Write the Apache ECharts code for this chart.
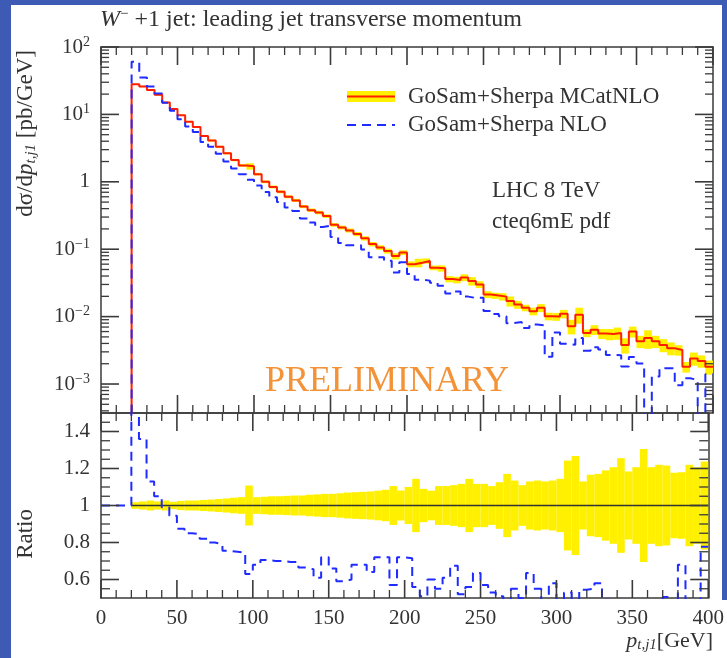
<!DOCTYPE html>
<html>
<head>
<meta charset="utf-8">
<title>W- +1 jet: leading jet transverse momentum</title>
<script src="https://cdn.jsdelivr.net/npm/echarts@6/dist/echarts.min.js"></script>
<style>
  html, body { margin: 0; padding: 0; background: #ffffff; }
  #wrap { position: relative; width: 727px; height: 658px; }
  #chart { width: 727px; height: 658px; }
  .strip { position: absolute; background: #3d5bb4; pointer-events: none; }
</style>
</head>
<body>
<div id="wrap">
  <div id="chart"></div>
  <div class="strip" style="left:0;top:0;width:11px;height:658px"></div>
  <div class="strip" style="left:0;top:0;width:727px;height:5px"></div>
  <div class="strip" style="left:722px;top:0;width:5px;height:600px"></div>
</div>
<script>
  // bin edges in GeV (5 GeV bins from 20 to 400)
  const binEdges = [20, 25, 30, 35, 40, 45, 50, 55, 60, 65, 70, 75, 80, 85, 90, 95, 100,
    105, 110, 115, 120, 125, 130, 135, 140, 145, 150, 155, 160, 165, 170, 175, 180, 185, 190, 195, 200,
    205, 210, 215, 220, 225, 230, 235, 240, 245, 250, 255, 260, 265, 270, 275, 280, 285, 290, 295, 300,
    305, 310, 315, 320, 325, 330, 335, 340, 345, 350, 355, 360, 365, 370, 375, 380, 385, 390, 395, 400];

  // GoSam+Sherpa MCatNLO, dsigma/dpt [pb/GeV]
  const mcatnlo = [28, 26, 23, 19.5, 15, 12, 9.7, 7.8, 6.5, 4.8,
    4.1, 3.3, 2.65, 2.1, 1.75, 1.7, 1.3, 1.0, 0.84, 0.71,
    0.60, 0.53, 0.43, 0.38, 0.35, 0.31, 0.23, 0.21, 0.19, 0.168,
    0.145, 0.119, 0.106, 0.094, 0.079, 0.089, 0.060, 0.063, 0.067, 0.053,
    0.052, 0.036, 0.035, 0.038, 0.0337, 0.030, 0.0213, 0.0205, 0.0198, 0.017,
    0.0151, 0.0135, 0.012, 0.0135, 0.0101, 0.0100, 0.0110, 0.0072, 0.0107, 0.0057,
    0.0064, 0.0056, 0.0055, 0.0057, 0.0038, 0.0060, 0.0043, 0.0048, 0.0043, 0.0038,
    0.0034, 0.0032, 0.0018, 0.0024, 0.0022, 0.0018];

  // GoSam+Sherpa NLO, dsigma/dpt [pb/GeV]
  const nlo = [60.2, 35.4, 26.0, 20.5, 14.9, 11.3, 8.5, 6.6, 5.5, 3.9,
    3.3, 2.6, 2.0, 1.58, 1.30, 1.07, 0.88, 0.705, 0.59, 0.50,
    0.417, 0.368, 0.286, 0.249, 0.214, 0.223, 0.152, 0.124, 0.114, 0.114,
    0.0986, 0.0762, 0.0763, 0.0677, 0.0450, 0.0641, 0.0429, 0.0353, 0.0342, 0.0318,
    0.0286, 0.0220, 0.0236, 0.0198, 0.0189, 0.0191, 0.0121, 0.0109, 0.0101, 0.0080,
    0.0083, 0.00675, 0.00762, 0.00743, 0.00253, 0.0058, 0.00396, 0.00382, 0.00482, 0.00311,
    0.00352, 0.00325, 0.0027, 0.00268, 0.00182, 0.00252, 0.00202, 0.00024, 0.00129, 0.00171,
    0.00172, 0.00096, 0.00122, 0.00115, 0.00026, 0.0014];

  // NLO / MCatNLO ratio
  const nloRatio = [2.15, 1.36, 1.13, 1.05, 0.99, 0.945, 0.875, 0.85, 0.845, 0.82,
    0.80, 0.79, 0.755, 0.75, 0.745, 0.63, 0.68, 0.705, 0.70, 0.70,
    0.695, 0.695, 0.665, 0.655, 0.61, 0.72, 0.66, 0.59, 0.60, 0.68,
    0.68, 0.64, 0.72, 0.72, 0.57, 0.72, 0.715, 0.56, 0.51, 0.60,
    0.55, 0.61, 0.675, 0.52, 0.56, 0.635, 0.57, 0.53, 0.51, 0.47,
    0.55, 0.50, 0.635, 0.55, 0.25, 0.58, 0.36, 0.53, 0.45, 0.545,
    0.55, 0.58, 0.49, 0.47, 0.48, 0.42, 0.47, 0.05, 0.30, 0.45,
    0.505, 0.30, 0.68, 0.48, 0.12, 0.777];

  // MCatNLO relative uncertainty (half width of the yellow band)
  const bandRel = [0.018, 0.022, 0.027, 0.022, 0.027, 0.02, 0.025, 0.027, 0.027, 0.03,
    0.032, 0.035, 0.038, 0.042, 0.045, 0.108, 0.045, 0.047, 0.05, 0.05,
    0.052, 0.054, 0.054, 0.058, 0.06, 0.063, 0.063, 0.066, 0.07, 0.072,
    0.074, 0.076, 0.08, 0.085, 0.105, 0.081, 0.10, 0.144, 0.09, 0.08,
    0.105, 0.105, 0.11, 0.117, 0.144, 0.117, 0.117, 0.105, 0.126, 0.171,
    0.135, 0.11, 0.13, 0.135, 0.13, 0.135, 0.144, 0.243, 0.267, 0.13,
    0.166, 0.171, 0.19, 0.207, 0.256, 0.184, 0.207, 0.306, 0.207, 0.22,
    0.216, 0.177, 0.18, 0.22, 0.207, 0.238];

  const xTicks = [0, 50, 100, 150, 200, 250, 300, 350, 400];
  const logTicks = [-3, -2, -1, 0, 1, 2];
  const ratioTicks = [0.6, 0.8, 1, 1.2, 1.4];
  const ratioMinor = [0.55, 0.65, 0.7, 0.75, 0.85, 0.9, 0.95, 1.05, 1.1, 1.15, 1.25, 1.3, 1.35, 1.45];

  const FONT = '"Liberation Serif", "DejaVu Serif", serif';
  const TEXT = '#333333';
  const FRAME = '#3a3a3a';
  const YELLOW = '#fff000';
  const RED = '#ff1e00';
  const BLUE = '#1f2bff';
  const LOG_MIN = -3.43, LOG_MAX = 2, BELOW = -9;
  const R_MIN = 0.5, R_MAX = 1.5;
  const MAJOR = 18, MINOR = 8;

  // minor ticks: every 10 GeV on x, 2..9 per decade on the log axis
  let xMinor = [];
  for (let v = 10; v < 400; v += 10) if (v % 50 !== 0) xMinor.push(v);
  let logMinor = [];
  for (let n = -4; n <= 1; n++) {
    for (let k = 2; k <= 9; k++) {
      let v = n + Math.log10(k);
      if (v > LOG_MIN && v < LOG_MAX) logMinor.push(v);
    }
  }

  let lg = (v) => Math.log10(v);

  // histogram as step line: [lowEdge, value] ... [lastEdge, lastValue]
  function stepData(vals, tf, first) {
    let out = first ? [first] : [];
    vals.forEach((v, i) => out.push([binEdges[i], tf(v)]));
    out.push([binEdges[binEdges.length - 1], tf(vals[vals.length - 1])]);
    return out;
  }

  let upperBand = mcatnlo.map((v, i) => [binEdges[i], binEdges[i + 1], lg(v * (1 - bandRel[i])), lg(v * (1 + bandRel[i]))]);
  let ratioBand = bandRel.map((r, i) => [binEdges[i], binEdges[i + 1], 1 - r, 1 + r]);

  function bandItem(params, api) {
    let a = api.coord([api.value(0), api.value(3)]);
    let b = api.coord([api.value(1), api.value(2)]);
    return {
      type: 'rect',
      shape: { x: a[0], y: a[1], width: b[0] - a[0], height: b[1] - a[1] },
      style: { fill: YELLOW }
    };
  }

  // one series of inward tick marks on one side of a panel; data = [x, y] points on that edge
  function tickSeries(xi, yi, side, len, pts) {
    let w = len > 10 ? 1.6 : 1.3;
    return {
      type: 'custom', xAxisIndex: xi, yAxisIndex: yi, z: 6, silent: true, clip: false,
      encode: { x: 0, y: 1 }, data: pts,
      renderItem: function (params, api) {
        let p = api.coord([api.value(0), api.value(1)]);
        let s;
        if (side === 'top') s = { x: p[0] - w / 2, y: p[1], width: w, height: len };
        else if (side === 'bottom') s = { x: p[0] - w / 2, y: p[1] - len, width: w, height: len };
        else if (side === 'left') s = { x: p[0], y: p[1] - w / 2, width: len, height: w };
        else s = { x: p[0] - len, y: p[1] - w / 2, width: len, height: w };
        return { type: 'rect', shape: s, style: { fill: FRAME } };
      }
    };
  }

  function panelTicks(xi, yi, lo, hi, yMajor, yMinor, yLen) {
    return [
      tickSeries(xi, yi, 'top', MAJOR, xTicks.map((v) => [v, hi])),
      tickSeries(xi, yi, 'top', MINOR, xMinor.map((v) => [v, hi])),
      tickSeries(xi, yi, 'bottom', MAJOR, xTicks.map((v) => [v, lo])),
      tickSeries(xi, yi, 'bottom', MINOR, xMinor.map((v) => [v, lo])),
      tickSeries(xi, yi, 'left', MAJOR, yMajor.map((v) => [0, v])),
      tickSeries(xi, yi, 'left', yLen, yMinor.map((v) => [0, v])),
      tickSeries(xi, yi, 'right', MAJOR, yMajor.map((v) => [400, v])),
      tickSeries(xi, yi, 'right', yLen, yMinor.map((v) => [400, v]))
    ];
  }

  function xAx(grid, pos, withLabels) {
    return {
      type: 'value', gridIndex: grid, position: pos, min: 0, max: 400, interval: 50,
      axisLine: { show: true, onZero: false, lineStyle: { color: FRAME, width: 1.5 } },
      axisTick: { show: false },
      axisLabel: withLabels ? {
        showMinLabel: true, showMaxLabel: true,
        margin: 10, color: TEXT, fontFamily: FONT, fontSize: 21
      } : { show: false },
      splitLine: { show: false }
    };
  }

  function yAx(grid, pos, min, max, ticks, label) {
    return {
      type: 'value', gridIndex: grid, position: pos, min: min, max: max,
      axisLine: { show: true, onZero: false, lineStyle: { color: FRAME, width: 1.5 } },
      axisTick: { show: false },
      axisLabel: label ? Object.assign({ customValues: ticks }, label) : { show: false },
      splitLine: { show: false }
    };
  }

  let logLabel = {
    margin: 11, color: TEXT, fontFamily: FONT, fontSize: 21,
    formatter: function (v) {
      let e = Math.round(v);
      if (e === 0) return '{b|1}';
      return '{b|10}{s|' + (e < 0 ? '\u2212' + (-e) : e) + '}';
    },
    rich: {
      b: { fontFamily: FONT, fontSize: 21, color: TEXT, lineHeight: 24 },
      s: { fontFamily: FONT, fontSize: 14, color: TEXT, lineHeight: 14, verticalAlign: 'top' }
    }
  };
  let ratioLabel = {
    margin: 11, color: TEXT, fontFamily: FONT, fontSize: 21,
    formatter: (v) => String(v)
  };

  let chart = echarts.init(document.getElementById('chart'), null, { renderer: 'canvas' });

  let series = [
    {
      name: 'MCatNLO band', type: 'custom', xAxisIndex: 0, yAxisIndex: 0, z: 1, silent: true, clip: true,
      renderItem: bandItem, encode: { x: [0, 1], y: [2, 3] }, data: upperBand
    },
    {
      name: 'GoSam+Sherpa MCatNLO', type: 'line', xAxisIndex: 0, yAxisIndex: 0, z: 3, step: 'end',
      showSymbol: false, symbol: 'none', silent: true, clip: true,
      lineStyle: { color: RED, width: 2 },
      data: stepData(mcatnlo, lg, [binEdges[0], BELOW])
    },
    {
      name: 'GoSam+Sherpa NLO', type: 'line', xAxisIndex: 0, yAxisIndex: 0, z: 4, step: 'end',
      showSymbol: false, symbol: 'none', silent: true, clip: true,
      lineStyle: { color: BLUE, width: 2, type: [9, 6] },
      data: stepData(nlo, lg, [binEdges[0], BELOW])
    },
    {
      name: 'ratio band', type: 'custom', xAxisIndex: 3, yAxisIndex: 2, z: 1, silent: true, clip: true,
      renderItem: bandItem, encode: { x: [0, 1], y: [2, 3] }, data: ratioBand
    },
    {
      name: 'unity', type: 'line', xAxisIndex: 3, yAxisIndex: 2, z: 3,
      showSymbol: false, symbol: 'none', silent: true,
      lineStyle: { color: '#333', width: 1.6 },
      data: [[binEdges[0], 1], [400, 1]]
    },
    {
      name: 'NLO / MCatNLO', type: 'line', xAxisIndex: 3, yAxisIndex: 2, z: 4, step: 'end',
      showSymbol: false, symbol: 'none', silent: true, clip: true,
      lineStyle: { color: BLUE, width: 2, type: [9, 6] },
      data: stepData(nloRatio, (v) => v, [0, 1])
    }
  ].concat(
    panelTicks(0, 0, LOG_MIN, LOG_MAX, logTicks, logMinor, MINOR),
    panelTicks(3, 2, R_MIN, R_MAX, ratioTicks, ratioMinor, 9)
  );

  let option = {
    backgroundColor: '#ffffff',
    animation: false,
    grid: [
      { left: 101, right: 14, top: 47, height: 366, show: false },
      { left: 101, right: 14, top: 413, height: 185, show: false }
    ],
    xAxis: [
      xAx(0, 'bottom', false),
      xAx(0, 'top', false),
      xAx(1, 'top', false),
      xAx(1, 'bottom', true)
    ],
    yAxis: [
      yAx(0, 'left', LOG_MIN, LOG_MAX, logTicks, logLabel),
      yAx(0, 'right', LOG_MIN, LOG_MAX, logTicks, null),
      yAx(1, 'left', R_MIN, R_MAX, ratioTicks, ratioLabel),
      yAx(1, 'right', R_MIN, R_MAX, ratioTicks, null)
    ],
    series: series,
    graphic: [
      {
        type: 'text', x: 100, y: 20, silent: true,
        style: {
          text: '{i|W}{s|\u2212} +1 jet: leading jet transverse momentum',
          align: 'left', verticalAlign: 'middle', fill: TEXT, fontFamily: FONT, fontSize: 24,
          rich: {
            i: { fontFamily: FONT, fontSize: 24, fontStyle: 'italic', lineHeight: 26 },
            s: { fontFamily: FONT, fontSize: 15, lineHeight: 15, verticalAlign: 'top' }
          }
        }
      },
      {
        type: 'text', x: 26, y: 50, rotation: Math.PI / 2, silent: true,
        style: {
          text: 'd\u03c3/d{i|p}{sub|t,j1} [pb/GeV]',
          align: 'right', verticalAlign: 'middle', fill: TEXT, fontFamily: FONT, fontSize: 23,
          rich: {
            i: { fontFamily: FONT, fontSize: 23, fontStyle: 'italic', lineHeight: 26 },
            sub: { fontFamily: FONT, fontSize: 15, fontStyle: 'italic', lineHeight: 15, verticalAlign: 'bottom' }
          }
        }
      },
      {
        type: 'text', x: 26, y: 509, rotation: Math.PI / 2, silent: true,
        style: { text: 'Ratio', align: 'right', verticalAlign: 'middle', fill: TEXT, fontFamily: FONT, fontSize: 23 }
      },
      {
        type: 'text', x: 713, y: 641, silent: true,
        style: {
          text: '{i|p}{sub|t,j1}[GeV]',
          align: 'right', verticalAlign: 'middle', fill: TEXT, fontFamily: FONT, fontSize: 22,
          rich: {
            i: { fontFamily: FONT, fontSize: 22, fontStyle: 'italic', lineHeight: 24 },
            sub: { fontFamily: FONT, fontSize: 15, fontStyle: 'italic', lineHeight: 15, verticalAlign: 'bottom' }
          }
        }
      },
      // legend
      { type: 'rect', silent: true, shape: { x: 347, y: 91, width: 48, height: 11 }, style: { fill: YELLOW } },
      { type: 'line', silent: true, shape: { x1: 347, y1: 96.5, x2: 395, y2: 96.5 }, style: { stroke: RED, lineWidth: 2 } },
      { type: 'line', silent: true, shape: { x1: 347, y1: 125, x2: 395, y2: 125 }, style: { stroke: BLUE, lineWidth: 2, lineDash: [9, 6] } },
      {
        type: 'text', x: 408, y: 97, silent: true,
        style: { text: 'GoSam+Sherpa MCatNLO', align: 'left', verticalAlign: 'middle', fill: TEXT, fontFamily: FONT, fontSize: 23 }
      },
      {
        type: 'text', x: 408, y: 125, silent: true,
        style: { text: 'GoSam+Sherpa NLO', align: 'left', verticalAlign: 'middle', fill: TEXT, fontFamily: FONT, fontSize: 23 }
      },
      {
        type: 'text', x: 492, y: 191, silent: true,
        style: { text: 'LHC 8 TeV', align: 'left', verticalAlign: 'middle', fill: TEXT, fontFamily: FONT, fontSize: 23 }
      },
      {
        type: 'text', x: 492, y: 222, silent: true,
        style: { text: 'cteq6mE pdf', align: 'left', verticalAlign: 'middle', fill: TEXT, fontFamily: FONT, fontSize: 23 }
      },
      {
        type: 'text', x: 265, y: 382, silent: true,
        style: { text: 'PRELIMINARY', align: 'left', verticalAlign: 'middle', fill: '#f39237', fontFamily: FONT, fontSize: 36 }
      }
    ]
  };

  chart.setOption(option);
</script>
</body>
</html>
